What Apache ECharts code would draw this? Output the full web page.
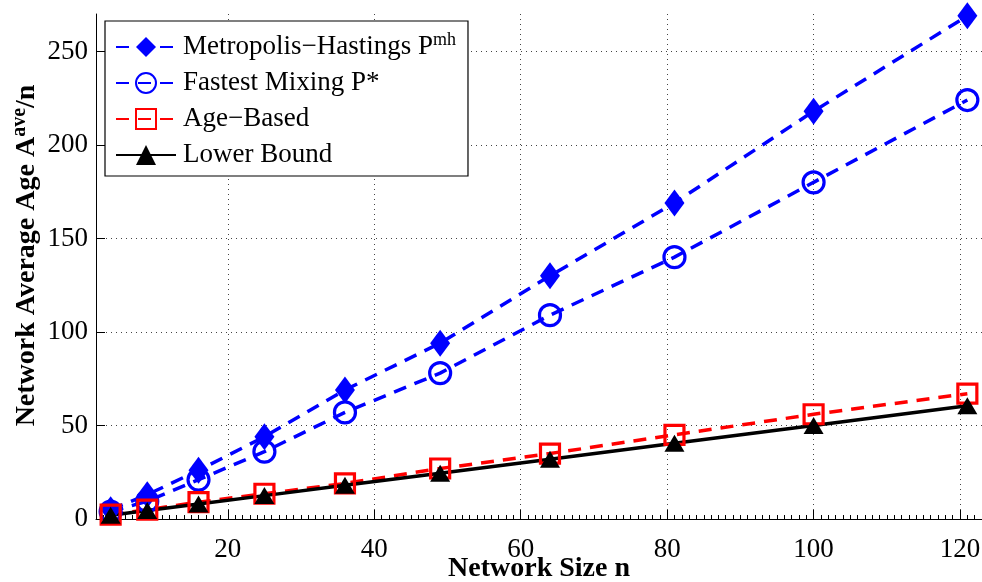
<!DOCTYPE html>
<html>
<head>
<meta charset="utf-8">
<script src="https://cdn.jsdelivr.net/npm/echarts@6/dist/echarts.min.js"></script>
<style>
html,body{margin:0;padding:0;background:#fff;}
#chart{width:982px;height:582px;}
</style>
</head>
<body>
<div id="chart"></div>
<script>
const networkSizes = [4, 9, 16, 25, 36, 49, 64, 81, 100, 121];
const metropolisHastings = [5, 13, 26, 44, 69, 94, 130, 169, 218, 269];
const fastestMixing = [4, 9.5, 21, 36, 57, 78, 109, 140, 180, 224];
const ageBased = [2.3, 5, 9, 13.5, 19, 27, 35, 45, 56, 67];
const lowerBound = [2, 4.5, 8, 12.5, 18, 24.5, 32, 40.5, 50, 60.5];
const xTickValues = [20, 40, 60, 80, 100, 120];
const yTickValues = [0, 50, 100, 150, 200, 250];
const seriesNames = ['Metropolis\u2212Hastings P', 'Fastest Mixing P*', 'Age\u2212Based', 'Lower Bound'];

const FONT = "'Liberation Serif', 'Times New Roman', serif";
const pairs = vals => networkSizes.map((n, i) => [n, vals[i]]);

const chart = echarts.init(document.getElementById('chart'), null, {renderer: 'canvas'});
const dash = [13, 9];
chart.setOption({
  animation: false,
  backgroundColor: '#fff',
  grid: {left: 96, right: 0, top: 14, bottom: 63, containLabel: false, outerBoundsMode: 'none'},
  legend: {
    orient: 'vertical',
    left: 105, top: 21,
    padding: [10, 12, 5, 10],
    itemWidth: 60, itemHeight: 25, itemGap: 4,
    backgroundColor: '#fff',
    borderColor: '#000', borderWidth: 1.2, borderRadius: 0,
    data: seriesNames,
    formatter: name => name === seriesNames[0] ? name + '{sup|mh}' : name,
    textStyle: {
      fontFamily: FONT, fontSize: 27, color: '#000', lineHeight: 32, padding: [0, 0, 0, 2],
      rich: {sup: {fontFamily: FONT, fontSize: 18, lineHeight: 18, color: '#000', verticalAlign: 'top', padding: [0, 0, 14, 0]}}
    }
  },
  xAxis: [{
    type: 'value', min: 2, max: 123,
    name: 'Network Size n', nameLocation: 'middle', nameGap: 36, nameMoveOverlap: false,
    nameTextStyle: {fontFamily: FONT, fontSize: 28, fontWeight: 'bold', color: '#000'},
    axisLine: {show: true, onZero: false, lineStyle: {color: '#000', width: 1}},
    axisTick: {show: true, inside: true, length: 9, customValues: xTickValues, lineStyle: {color: '#000'}},
    axisLabel: {customValues: xTickValues, margin: 17, fontFamily: FONT, fontSize: 27, color: '#000'},
    splitLine: {show: true, lineStyle: {color: '#444', type: [1, 4], width: 1}}
  }, {
    type: 'value', min: 2, max: 123, interval: 1, position: 'bottom',
    axisLine: {show: false}, axisLabel: {show: false}, splitLine: {show: false},
    axisTick: {show: true, inside: true, length: 4, lineStyle: {color: '#000'}}
  }],
  yAxis: {
    type: 'value', min: 0, max: 270,
    name: 'Network Average Age A{sup|ave}/n', nameLocation: 'middle', nameGap: 52, nameRotate: 90, nameMoveOverlap: false,
    nameTextStyle: {fontFamily: FONT, fontSize: 28, fontWeight: 'bold', color: '#000', padding: [0, 0, 0, 22],
      rich: {sup: {fontFamily: FONT, fontSize: 20, fontWeight: 'bold', color: '#000', verticalAlign: 'top', padding: [0, 0, 14, 0]}}},
    axisLine: {show: true, lineStyle: {color: '#000', width: 1}},
    axisTick: {show: true, inside: true, length: 9, customValues: yTickValues, lineStyle: {color: '#000'}},
    axisLabel: {customValues: yTickValues, margin: 8, fontFamily: FONT, fontSize: 27, color: '#000'},
    splitLine: {show: true, lineStyle: {color: '#444', type: [1, 4], width: 1}}
  },
  series: [
    {name: seriesNames[0], type: 'line', data: pairs(metropolisHastings),
     symbol: 'diamond', symbolSize: [20, 27],
     lineStyle: {color: '#0000ff', width: 3.5, type: dash},
     itemStyle: {color: '#0000ff', borderColor: '#0000ff', borderWidth: 0}},
    {name: seriesNames[1], type: 'line', data: pairs(fastestMixing),
     symbol: 'circle', symbolSize: 21,
     lineStyle: {color: '#0000ff', width: 3.5, type: dash},
     itemStyle: {color: 'rgba(255,255,255,0)', borderColor: '#0000ff', borderWidth: 3.2}},
    {name: seriesNames[2], type: 'line', data: pairs(ageBased),
     symbol: 'rect', symbolSize: 19,
     lineStyle: {color: '#ff0000', width: 3.5, type: dash},
     itemStyle: {color: 'rgba(255,255,255,0)', borderColor: '#ff0000', borderWidth: 3.2}},
    {name: seriesNames[3], type: 'line', data: pairs(lowerBound),
     symbol: 'triangle', symbolSize: [20, 17],
     lineStyle: {color: '#000', width: 3.5, type: 'solid'},
     itemStyle: {color: '#000', borderWidth: 0}}
  ]
});
</script>
</body>
</html>
